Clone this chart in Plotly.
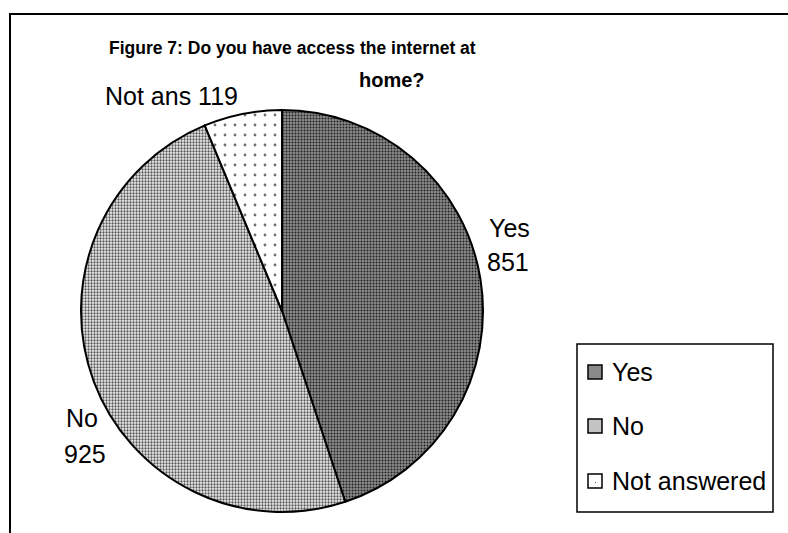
import plotly.graph_objects as go

# Survey responses
categories = ["Yes", "No", "Not answered"]
counts = [851, 925, 119]

W, H = 788, 533
FONT = "Liberation Sans, Arial, sans-serif"


def px(x):
    return x / W


def py(y):
    return 1 - y / H


def text_at(text, x, y, size, xanchor="center"):
    fig.add_annotation(text=text, x=px(x), y=py(y), xref="paper", yref="paper",
                       xanchor=xanchor, yanchor="middle", showarrow=False,
                       font=dict(family=FONT, size=size, color="black"))


fig = go.Figure()

fig.add_trace(go.Pie(
    labels=categories,
    values=counts,
    sort=False,
    direction="clockwise",
    rotation=0,
    textinfo="none",
    hoverinfo="label+value",
    showlegend=False,
    domain=dict(x=[px(81), px(483)], y=[py(512), py(110)]),
    marker=dict(
        colors=["#8a8a8a", "#ffffff", "#ffffff"],
        line=dict(color="black", width=2),
        pattern=dict(
            shape=[".", ".", "."],
            bgcolor=["#8a8a8a", "#f0f0f0", "#ffffff"],
            fgcolor=["#202020", "#555555", "#707070"],
            size=[3, 3, 10],
            solidity=[0.35, 0.45, 0.06],
        ),
    ),
))

# Chart frame
fig.add_shape(type="rect", xref="paper", yref="paper",
              x0=px(10), y0=-0.05, x1=1.05, y1=py(14),
              line=dict(color="black", width=2), fillcolor="rgba(0,0,0,0)")

# Title
text_at("<b>Figure 7: Do you have access the internet at</b>", 292, 48, 17.5)
text_at("<b>home?</b>", 392, 80, 20)

# Slice labels: name and count on separate lines
text_at("Yes", 509, 228, 25)
text_at(str(counts[0]), 508, 262, 25)
text_at("No", 82, 418, 25)
text_at(str(counts[1]), 85, 454, 25)
text_at("Not ans " + str(counts[2]), 171, 96, 25)

# Legend box
fig.add_shape(type="rect", xref="paper", yref="paper",
              x0=px(577), y0=py(512), x1=px(773), y1=py(344),
              line=dict(color="black", width=1.5), fillcolor="white")
swatch_fill = ["#8a8a8a", "#c4c4c4", "#ffffff"]
legend_y = [372, 426, 481]
for name, fill, ly in zip(categories, swatch_fill, legend_y):
    fig.add_shape(type="rect", xref="paper", yref="paper",
                  x0=px(588), y0=py(ly + 7), x1=px(602), y1=py(ly - 7),
                  line=dict(color="black", width=1.5), fillcolor=fill)
    text_at(name, 610, ly, 25, xanchor="left")
# speck inside the "Not answered" swatch
fig.add_shape(type="rect", xref="paper", yref="paper",
              x0=px(595), y0=py(483), x1=px(596), y1=py(482),
              line=dict(width=0), fillcolor="#555555")

fig.update_layout(
    width=W, height=H,
    margin=dict(l=0, r=0, t=0, b=0),
    paper_bgcolor="white",
    plot_bgcolor="white",
    showlegend=False,
)

fig.write_html("out.html")
